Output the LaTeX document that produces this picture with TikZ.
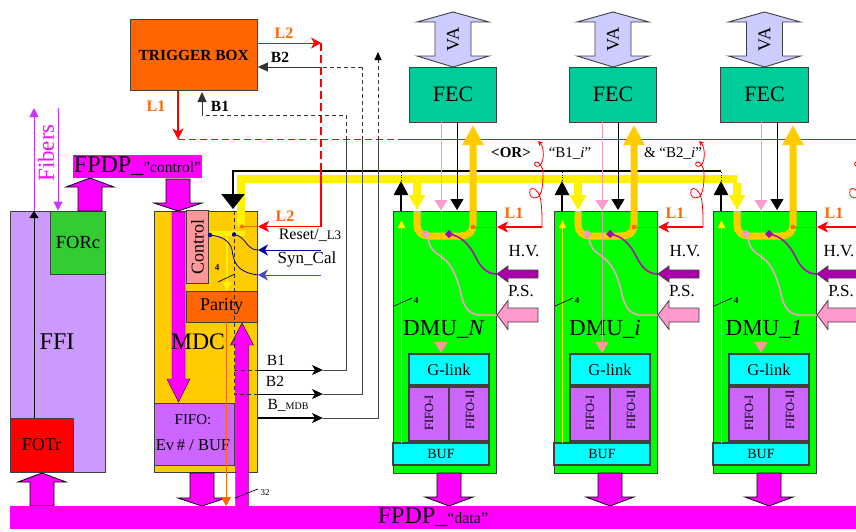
\documentclass[tikz,border=0pt]{standalone}
\usepackage{fontspec}
\setmainfont{Liberation Serif}
\usetikzlibrary{arrows.meta}
\definecolor{triggerorange}{HTML}{FF6600}
\definecolor{fpdpmagenta}{HTML}{FF00FF}
\definecolor{ffipurple}{HTML}{CC99FF}
\definecolor{forcgreen}{HTML}{33CC33}
\definecolor{mdcgold}{HTML}{FFCC00}
\definecolor{fifopurple}{HTML}{CC66FF}
\definecolor{fecgreen}{HTML}{00CC99}
\definecolor{vablue}{HTML}{CCCCFF}
\definecolor{dmugreen}{HTML}{00FF00}
\definecolor{linkcyan}{HTML}{00FFFF}
\definecolor{controlpink}{HTML}{FF9999}
\definecolor{pspink}{HTML}{FF99CC}
\definecolor{hvpurple}{HTML}{AA00AA}
\definecolor{fiberviolet}{HTML}{CC33FF}
\definecolor{wiregrey}{HTML}{444444}
\newcommand{\vblock}[7]{\draw[#1] (#2-#6,#3) -- (#2-#6,#4) -- (#2-#7,#4) -- (#2,#5) -- (#2+#7,#4) -- (#2+#6,#4) -- (#2+#6,#3) -- cycle;}
\newcommand{\hblock}[7]{\draw[#1] (#3,#2-#6) -- (#4,#2-#6) -- (#4,#2-#7) -- (#5,#2) -- (#4,#2+#7) -- (#4,#2+#6) -- (#3,#2+#6) -- cycle;}
\begin{document}
\begin{tikzpicture}
[x=1pt,y=-1pt,
  boxdecorate/.style={draw=black!75,line width=0.9pt,inner sep=0pt},
  fontpt/.style={font=\fontsize{#1}{#1}\selectfont,inner sep=0pt},
  boldpt/.style={font=\fontsize{#1}{#1}\selectfont\bfseries,inner sep=0pt},
  blockdecorate/.style={draw=black,line width=0.8pt,fill=#1},
  plainblock/.style={fill=#1},
  redarrow/.style={draw=red,line width=1.4pt,-{Stealth[length=11pt,width=11pt,inset=3pt]}},
  thinred/.style={draw=red,line width=0.8pt},
  dashwire/.style={draw=black!80,line width=0.8pt,dashed,dash pattern=on 4pt off 3pt},
  wire/.style={draw=wiregrey,line width=0.8pt},
  blackarrow/.style={draw=black,line width=#1,-{Stealth[length=11pt,width=10pt,inset=3pt]}},
  tiparrow/.style={draw=#1,-{Triangle[length=11pt,width=13pt]},line width=0.9pt},
  bluearrow/.style={draw=#1,line width=1pt,-{Stealth[length=10pt,width=11pt,inset=3pt]}},
  slashline/.style={draw=black,line width=0.7pt}]
\useasboundingbox (0,0) rectangle (856,531);
\clip (0,0) rectangle (856,531);
% trigger box
\node (trigger) at (193.7,55) [boxdecorate,fill=triggerorange,minimum width=127.5pt,minimum height=71.5pt,boldpt=15.4] {TRIGGER BOX};
\node (lbltwo) at (284,33) [boldpt=16,text=triggerorange] {L2};
\node (lblbtwo) at (280,57) [boldpt=15.5] {B2};
\node (lblone) at (156,106) [boldpt=16,text=triggerorange] {L1};
\node (lblbone) at (220,106) [boldpt=15.5] {B1};
% FFI crate
\node (ffi) at (57.5,341.5) [boxdecorate,fill=ffipurple,minimum width=95pt,minimum height=261pt,fontpt=24] {};
\node (ffitext) at (57,342) [fontpt=24] {FFI};
\node (forc) at (78,242.5) [boxdecorate,fill=forcgreen,minimum width=54.5pt,minimum height=63pt,fontpt=18.5] {FORc};
\node (fotr) at (41.5,445) [boxdecorate,fill=red,minimum width=63pt,minimum height=54pt,fontpt=18] {FOTr};
\coordinate (fibup) at (34,108);
\coordinate (fibdown) at (58,108);
\coordinate (fibin) at (34,211);
\node (fibers) at (46,153) [fontpt=23,text=fpdpmagenta!75!fiberviolet,rotate=90] {Fibers};
\path
(fibin) edge[draw=fiberviolet,line width=0.9pt,-{Triangle[length=9pt,width=9pt]}] (fibup)
(fibdown) edge[draw=fiberviolet,line width=0.9pt,-{Triangle[length=9pt,width=9pt]}] (forc.north -| fibdown)
(fotr.north -| fibin) edge[draw=black,line width=0.9pt,-{Triangle[length=7pt,width=9pt]}] (fibin);
% FPDP control
\node (fpdpctl) at (137.5,166.5) [fill=fpdpmagenta,minimum width=129pt,minimum height=23pt,inner sep=0pt,font=\fontsize{24}{24}\selectfont] {FPDP\_{\fontsize{15.5}{15.5}\selectfont ”control”}};
\vblock{blockdecorate=fpdpmagenta}{90}{211}{187}{178}{12}{24}
\vblock{blockdecorate=fpdpmagenta}{178}{179}{203}{211}{12}{24}
% MDC crate
\node (mdc) at (205.7,341.5) [boxdecorate,fill=mdcgold,minimum width=103.5pt,minimum height=261pt] {};
\vblock{plainblock=fpdpmagenta}{178.5}{212}{379}{402}{6.5}{11.5}
\node (mdctext) at (198,342) [fontpt=23.7] {MDC};
\node (control) at (197.5,247) [boxdecorate,fill=controlpink,minimum width=22pt,minimum height=73pt] {};
\node (controltext) at (197.5,247) [fontpt=18,rotate=90] {Control};
\node (parity) at (221.5,306.5) [boxdecorate,fill=triggerorange,minimum width=71pt,minimum height=31pt,fontpt=18] {Parity};
\node (fifo) at (194,434) [boxdecorate,fill=fifopurple,minimum width=80pt,minimum height=62pt] {};
\node (fifotop) at (193,420) [fontpt=15] {FIFO:};
\node (fifolow) at (193,445) [fontpt=16.5] {Ev\,\# / BUF};
\vblock{plainblock=fpdpmagenta}{242}{507}{345}{323}{6.5}{11.5}
\vblock{blockdecorate=fpdpmagenta}{202}{473}{498}{506}{12}{24}
\vblock{blockdecorate=fpdpmagenta}{42}{506}{482}{473}{12}{24}
% FPDP data
\node (fpdpdata) at (433,517.5) [fill=fpdpmagenta,minimum width=846pt,minimum height=23pt,inner sep=0pt,font=\fontsize{24}{24}\selectfont] {FPDP\_{\fontsize{16}{16}\selectfont “data”}};
% common lines
\coordinate (blacktop) at (233,171);
\coordinate (blackend) at (721,171);
\coordinate (blacktip) at (233,209);
\coordinate (yellowleft) at (241,179);
\coordinate (yellowright) at (737,179);
\coordinate (yellowdown) at (241,226);
\coordinate (yelbandl) at (210,233);
\coordinate (yelbandr) at (245,233);
\coordinate (yelthin) at (227,233);
\coordinate (yeltip) at (227,291);
\draw[draw=black,line width=2pt] (blackend) -- (blacktop) -- (233,195);
\draw[draw=yellow,line width=8pt] (yellowright) -- (yellowleft) -- (yellowdown);
\draw[draw=yellow,line width=5pt] (yelbandl) -- (yelbandr);
\path (yelthin) edge[draw=yellow,line width=1.2pt,-{Triangle[length=9pt,width=9pt]}] (yeltip);
\draw[draw=black,-{Triangle[length=15pt,width=23pt]},line width=2pt] (233,194) -- (blacktip);
% trigger lines
\coordinate (ltwoturn) at (321,43);
\coordinate (ltwoend) at (321,163);
\coordinate (ltwolow) at (321,226.5);
\coordinate (ltwotip) at (258,226.5);
\coordinate (ltwodot) at (242,226.5);
\coordinate (loneturn) at (178,139.5);
\coordinate (lonedash) at (400,139.5);
\coordinate (loneend) at (856,139.5);
\draw[draw=red,line width=1pt,dash pattern=on 7pt off 4pt] (loneturn) -- (lonedash);
\draw[draw=red,line width=1pt] (lonedash) -- (loneend);
\path
(trigger.east |- ltwoturn) edge[draw=red,line width=0.9pt,-{Stealth[length=10pt,width=11pt,inset=3pt]}] (ltwoturn)
(trigger.south -| loneturn) edge[redarrow] (loneturn)
(ltwoturn) edge[draw=red,line width=1.5pt,dashed,dash pattern=on 8pt off 4pt] (ltwoend);
\draw[draw=red,line width=1.5pt,-{Stealth[length=11pt,width=11pt,inset=3pt]}] (ltwoend) -- (ltwolow) -- (ltwotip);
\draw[draw=triggerorange,line width=0.8pt] (ltwotip) -- (ltwodot);
\fill[triggerorange] (ltwodot) circle (2pt);
\node (lblltwo) at (285,216) [boldpt=16,text=triggerorange] {L2};
% busy lines
\coordinate (bonetip) at (202,92);
\coordinate (bonecorner) at (202,115);
\coordinate (boneturn) at (346,115);
\coordinate (bonemid) at (346,140);
\coordinate (bonelow) at (346,370);
\coordinate (bonetail) at (258,370);
\coordinate (bonehead) at (323,370);
\coordinate (bonein) at (234,370);
\coordinate (btwoturn) at (362,67);
\coordinate (btwomid) at (362,140);
\coordinate (btwolow) at (362,394);
\coordinate (btwotail) at (258,394);
\coordinate (btwohead) at (323,394);
\coordinate (btwoin) at (234,394);
\coordinate (bmdtop) at (378,52);
\coordinate (bmdmid) at (378,140);
\coordinate (bmdlow) at (378,418);
\coordinate (bmdtail) at (258,418);
\coordinate (bmdhead) at (323,418);
\coordinate (mdcdash) at (234,211);
\draw[dashwire] (bonemid) -- (boneturn) -- (bonecorner);
\draw[dashwire] (btwomid) -- (btwoturn);
\draw[dashwire,dash pattern=on 4pt off 3pt] (bmdmid) -- (378,60);
\draw[draw=black,line width=0.8pt,-{Triangle[length=8pt,width=7pt]}] (378,60) -- (bmdtop);
\draw[dashwire,solid,-{Triangle[length=10pt,width=9pt]}] (bonecorner) -- (bonetip);
\draw[dashwire,solid,-{Triangle[length=10pt,width=9pt]}] (320,67) -- (trigger.east |- btwoturn);
\draw[dashwire] (btwoturn) -- (320,67);
\draw[wire] (bonehead) -- (bonelow) -- (bonemid);
\draw[wire] (btwohead) -- (btwolow) -- (btwomid);
\draw[wire] (bmdhead) -- (bmdlow) -- (bmdmid);
\path
(bonetail) edge[blackarrow=0.8pt] (bonehead)
(btwotail) edge[blackarrow=0.8pt] (btwohead)
(bmdtail) edge[blackarrow=1.6pt] (bmdhead);
\draw[dashwire] (mdcdash) -- (btwoin) -- (btwotail);
\draw[dashwire] (bonein) -- (bonetail);
\node (lblmdone) at (276,360) [fontpt=15.5] {B1};
\node (lblmdtwo) at (275,381) [fontpt=15.5] {B2};
\node (lblmdb) at (288,405) [font=\fontsize{15.5}{15.5}\selectfont,inner sep=0pt] {B\_{\fontsize{10}{10}\selectfont MDB}};
% reset and sync
\coordinate (resetend) at (321,250);
\coordinate (resettip) at (258,250);
\coordinate (resetdot) at (234,234.5);
\coordinate (syncend) at (321,275);
\coordinate (synctip) at (258,275);
\coordinate (syncdot) at (210,235);
\path
(resetend) edge[bluearrow=blue!70!black] (resettip)
(syncend) edge[bluearrow=blue!60!black!70] (synctip);
\draw[draw=blue!60!black,line width=0.8pt] (resettip) .. controls (246,250) and (246,236) .. (resetdot);
\draw[draw=blue!60!black,line width=0.8pt] (synctip) .. controls (236,272) and (234,262) .. (232,250) .. controls (230,240) and (220,236) .. (syncdot);
\fill[blue!70!black] (resetdot) circle (2.2pt);
\fill[blue!70!black] (syncdot) circle (2.2pt);
\node (lblreset) at (310,235) [font=\fontsize{16}{16}\selectfont,inner sep=0pt] {Reset/\_{\fontsize{13}{13}\selectfont L3}};
\node (lblsync) at (307,259) [fontpt=17] {Syn\_Cal};
\coordinate (slashstart) at (218,282);
\coordinate (slashend) at (235,274);
\path (slashstart) edge[slashline] (slashend);
\node (lblfour) at (217,268) [boldpt=9] {4};
% parity line
\coordinate (paritytip) at (226,506);
\path (parity.south -| paritytip) edge[draw=triggerorange,line width=0.8pt,-{Triangle[length=9pt,width=10pt]}] (paritytip);
\coordinate (slashaa) at (235,498);
\coordinate (slashbb) at (258,489);
\path (slashaa) edge[slashline] (slashbb);
\node (lblbus) at (265,493) [fontpt=9] {32};
% DMU columns
\foreach \n/\x/\f/\h in {N/393/60/131,i/554/59/131,1/713/51.5/126}{
\begin{scope}[xshift=\x pt]
\draw[draw=black!75,line width=0.9pt,fill=vablue] (\f,12) -- (\f+36,22) -- (\f+18,22) -- (\f+18,56) -- (\f+36,56) -- (\f,67) -- (\f-36,56) -- (\f-18,56) -- (\f-18,22) -- (\f-36,22) -- cycle;
\node (va\n) at (\f,39.5) [fontpt=18,rotate=90] {VA};
\node (fec\n) at (\f,94.5) [boxdecorate,fill=fecgreen,minimum width=87.5pt,minimum height=55pt,fontpt=22] {FEC};
\node (dmu\n) at (51.8,342) [boxdecorate,fill=dmugreen,minimum width=103.5pt,minimum height=262pt] {};
\node (dmutext\n) at (51,329) [fontpt=23] {DMU\_\textit{\n}};
\node (glink\n) at (56,369.5) [boxdecorate,line width=1.1pt,fill=linkcyan,minimum width=80pt,minimum height=31pt,fontpt=16.5] {G-link};
\node (fifoa\n) at (36,414) [boxdecorate,line width=1.1pt,fill=fifopurple,minimum width=40pt,minimum height=54pt] {};
\node (fifob\n) at (76,414) [boxdecorate,line width=1.1pt,fill=fifopurple,minimum width=40pt,minimum height=54pt] {};
\node (fifoatext\n) at (36,413) [fontpt=12.5,rotate=90] {FIFO-I};
\node (fifobtext\n) at (77,410) [fontpt=12.5,rotate=90] {FIFO-II};
\node (buf\n) at (48,454) [boxdecorate,line width=1.1pt,fill=linkcyan,minimum width=96pt,minimum height=22pt,fontpt=14] {BUF};
\vblock{blockdecorate=fpdpmagenta}{56}{473}{497}{506}{12}{24}
% wires of the column
\coordinate (pinktop\n) at (48,122);
\coordinate (pinktip\n) at (48,210);
\coordinate (pinkend\n) at (48,353);
\coordinate (blacktop\n) at (64,122);
\coordinate (blacktip\n) at (64,210);
\coordinate (ustart\n) at (24,211);
\coordinate (ulow\n) at (24,225);
\coordinate (ubottom\n) at (36,236);
\coordinate (uright\n) at (68,236);
\coordinate (uhigh\n) at (80,225);
\coordinate (utop\n) at (80,125);
\coordinate (yellowup\n) at (24,183);
\coordinate (yellowtip\n) at (24,210);
\coordinate (busybase\n) at (8,211);
\coordinate (busytip\n) at (8,181);
\coordinate (busytop\n) at (8,171);
\coordinate (thinlow\n) at (8.5,443);
\coordinate (thintip\n) at (8.5,220);
\coordinate (lonetail\n) at (149,227);
\coordinate (lonetip\n) at (104,227);
\coordinate (lonedot\n) at (80,227);
\coordinate (hvtip\n) at (104,274);
\coordinate (hvdot\n) at (56,234);
\coordinate (psdot\n) at (33,234);
\coordinate (pstip\n) at (104,315);
\path
(thinlow\n) edge[draw=yellow,line width=1.2pt,-{Triangle[length=8pt,width=7pt]}] (thintip\n);
\draw[draw=mdcgold,line width=7pt] (ustart\n) -- (ulow\n) .. controls (24,232) and (29,236) .. (ubottom\n) -- (uright\n) .. controls (75,236) and (80,232) .. (uhigh\n) -- (80,144);
\draw[draw=mdcgold,-{Triangle[length=20pt,width=20pt]},line width=7pt] (80,145) -- (utop\n);
\path
(pinktop\n) edge[draw=pspink,line width=0.9pt,-{Triangle[length=10pt,width=13pt]}] (pinktip\n)
(pinktip\n) edge[draw=controlpink!70!black!60,line width=0.9pt,-{Triangle[length=11pt,width=13pt,color=controlpink]}] (pinkend\n)
(blacktop\n) edge[tiparrow=black] (blacktip\n)
(yellowup\n) edge[draw=yellow,line width=8pt,-{Triangle[length=15pt,width=16pt]}] (yellowtip\n)
(busybase\n) edge[draw=black,line width=2.6pt,-{Triangle[length=14pt,width=14pt]}] (busytip\n)
(busytip\n) edge[draw=black,line width=0.8pt,dotted] (busytop\n)
(lonetail\n) edge[redarrow] (lonetip\n)
(lonetip\n) edge[draw=triggerorange,line width=0.8pt] (lonedot\n);
\fill[triggerorange] (lonedot\n) circle (2.3pt);
\draw[thinred,-{Stealth[length=5pt,width=5pt]}] (lonetail\n) .. controls (149,215) and (149,205) .. (147,197) .. controls (145,190) and (139,186) .. (137,190) .. controls (135,196) and (140,200) .. (145,197) .. controls (150,193) and (150,180) .. (150,172) .. controls (150,168) and (146,161) .. (143,162) .. controls (140,163) and (142,168) .. (146,166) .. controls (150,164) and (151,155) .. (150,150) .. controls (150,147) and (148,144) .. (145,141);
\node (lbllone\n) at (121,213) [boldpt=16,text=triggerorange] {L1};
\node (lblhv\n) at (\h,251) [fontpt=17] {H.V.};
\node (lblps\n) at (128,291) [fontpt=17] {P.S.};
\draw[draw=hvpurple!85!fiberviolet,line width=1.5pt] (hvtip\n) .. controls (94,274) and (88,268) .. (82,256) .. controls (76,244) and (68,236) .. (hvdot\n);
\draw[draw=pspink,line width=1.5pt] (pstip\n) -- (86,315) .. controls (68,313) and (70,296) .. (64,280) .. controls (58,262) and (50,258) .. (42,252) .. controls (36,248) and (36,240) .. (psdot\n);
\fill[hvpurple] (56,230) -- (60,234) -- (56,238) -- (52,234) -- cycle;
\fill[pspink] (33,230) -- (37,234) -- (33,238) -- (29,234) -- cycle;
\hblock{draw=black!75,line width=0.8pt,fill=hvpurple}{274}{145}{115}{104}{4}{8}
\hblock{draw=black!75,line width=0.8pt,fill=pspink}{315}{145}{115}{104}{7}{14.5}
\coordinate (slasha\n) at (1,306);
\coordinate (slashb\n) at (19,298);
\path (slasha\n) edge[slashline] (slashb\n);
\node (lblfour\n) at (23,301) [boldpt=9] {4};
\end{scope}
}
\node (lblor) at (511,153) [boldpt=15] {<OR>};
\node (lblbonei) at (570,153) [fontpt=15] {“B1\_\textit{i}”};
\node (lblbtwoi) at (673,153) [fontpt=15] {\& “B2\_\textit{i}”};
\end{tikzpicture}
\end{document}
